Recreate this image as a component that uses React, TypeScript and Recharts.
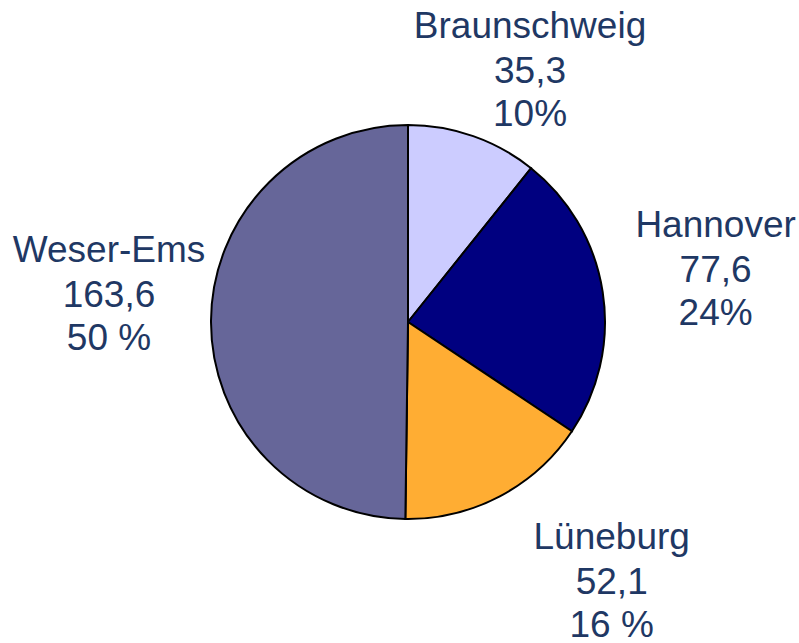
import React from "react";
import { PieChart, Pie, Cell } from "recharts";

// Regierungsbezirke
const regions = ["Braunschweig", "Hannover", "Lüneburg", "Weser-Ems"];
const values = [35.3, 77.6, 52.1, 163.6];
const shareLabels = ["10%", "24%", "16 %", "50 %"];

const colors = ["#CCCCFF", "#000080", "#FFAD33", "#666699"];
const textColor = "#1F3864";

// small per-slice nudges so labels sit like in the original
const nudges = [
  [27, 32],
  [24, 4],
  [70, 18],
  [-12, -13],
];

const data = regions.map((name, i) => ({
  name,
  value: values[i],
  share: shareLabels[i],
}));

const RAD = Math.PI / 180;

const renderLabel = (props: any) => {
  const { cx, cy, midAngle, outerRadius, index } = props;
  const r = outerRadius + 90;
  const x = cx + r * Math.cos(-midAngle * RAD) + nudges[index][0];
  const y = cy + r * Math.sin(-midAngle * RAD) + nudges[index][1];
  const d = data[index];
  return (
    <text
      x={x}
      y={y}
      textAnchor="middle"
      fill={textColor}
      fontSize={37}
      fontFamily="'Liberation Sans', Arial, sans-serif"
    >
      <tspan x={x} dy={-45}>
        {d.name}
      </tspan>
      <tspan x={x} dy={45}>
        {d.value.toFixed(1).replace(".", ",")}
      </tspan>
      <tspan x={x} dy={43}>
        {d.share}
      </tspan>
    </text>
  );
};

export default function App() {
  return (
    <div style={{ position: "absolute", left: 0, top: 0, width: 799, height: 643, background: "#fff" }}>
      <PieChart width={799} height={643} margin={{ top: 0, right: 0, bottom: 0, left: 0 }}>
        <Pie
          data={data}
          dataKey="value"
          nameKey="name"
          cx={408}
          cy={322}
          outerRadius={197}
          startAngle={90}
          endAngle={-270}
          stroke="#000"
          strokeWidth={2}
          label={renderLabel}
          labelLine={false}
          isAnimationActive={false}
        >
          {data.map((d, i) => (
            <Cell key={d.name} fill={colors[i]} />
          ))}
        </Pie>
      </PieChart>
    </div>
  );
}
